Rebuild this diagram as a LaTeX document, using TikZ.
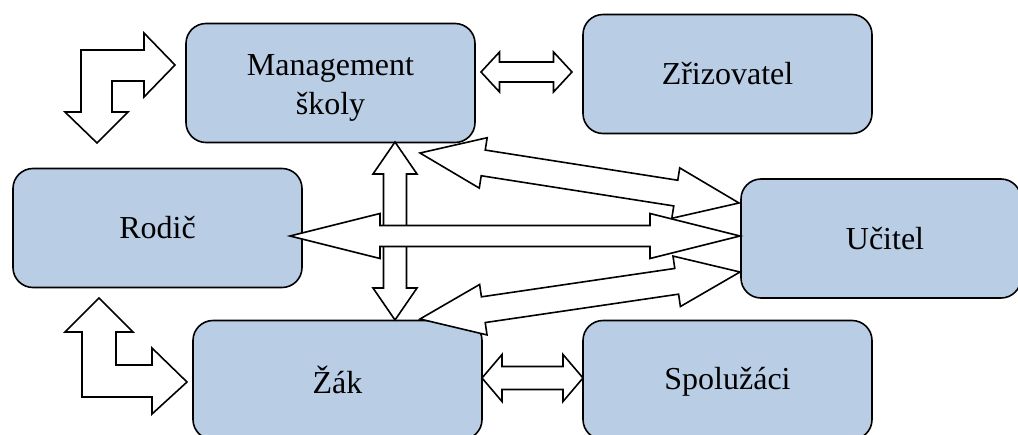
\documentclass[tikz,border=0pt]{standalone}
\usepackage{fontspec}
\setmainfont{Liberation Serif}
\usetikzlibrary{calc}
\definecolor{boxblue}{HTML}{B9CDE5}
\tikzset{
  box/.style={draw=black, line width=1.6pt, fill=boxblue, rounded corners=20pt,
    minimum width=289pt, minimum height=119pt, inner sep=0pt, align=center,
    font=\fontsize{32}{39}\selectfont},
  blockarrow/.style={draw=black, fill=white, line width=1.6pt, line join=miter},
}
% double block arrow: #1 name, #2 tip A, #3 tip B, #4 shaft half width,
% #5 head half width, #6 head length
\newcommand\dblarrow[6]{%
  \coordinate (#1a) at ($(#2)!#6pt!(#3)$);
  \coordinate (#1b) at ($(#3)!#6pt!(#2)$);
  \draw[blockarrow] (#2)
    -- ($(#1a)!#5pt!90:(#3)$) -- ($(#1a)!#4pt!90:(#3)$)
    -- ($(#1b)!#4pt!-90:(#2)$) -- ($(#1b)!#5pt!-90:(#2)$)
    -- (#3)
    -- ($(#1b)!#5pt!90:(#2)$) -- ($(#1b)!#4pt!90:(#2)$)
    -- ($(#1a)!#4pt!-90:(#3)$) -- ($(#1a)!#5pt!-90:(#3)$)
    -- cycle;}
\begin{document}
\begin{tikzpicture}[x=1pt, y=-1pt]
\useasboundingbox (0,0) rectangle (1018,434);
\clip (0,0) rectangle (1018,434);

% boxes
\node[box] (mg) at (330.5,83)
  {\raisebox{-4pt}[\height][\depth]{\begin{tabular}{@{}c@{}}Management\\školy\end{tabular}}};
\node[box] (zr) at (727.5,74) {Zřizovatel};
\node[box] (ro) at (157.5,228) {Rodič};
\node[box, minimum width=280pt] (uc) at (881,238.5) {\hspace*{8pt}Učitel};
\node[box] (zk) at (337.5,380) {Žák};
\node[box] (sp) at (727.5,380) {\raisebox{-2pt}[\height][\depth]{Spolužáci}};

% arrow tips
\coordinate (mgE) at (481,72);
\coordinate (zrW) at (572,72);
\coordinate (zkE) at (482,378);
\coordinate (spW) at (583,378);
\coordinate (mgS) at (395,142);
\coordinate (zkN) at (395,320);
\coordinate (roE) at (290,236);
\coordinate (ucW) at (740,236);
\coordinate (mgSE) at (420,153);
\coordinate (ucNW) at (739,203);
\coordinate (zkNE) at (420,319);
\coordinate (ucSW) at (740,272);

% bent arrow between Management and Rodič
\draw[blockarrow] (81,50) -- (144,50) -- (144,33) -- (175,65) -- (144,97)
  -- (144,81) -- (112,81) -- (112,112) -- (128,112) -- (97,143) -- (65,112)
  -- (81,112) -- cycle;
% bent arrow between Rodič and Žák
\draw[blockarrow] (82,397) -- (82,332) -- (65,332) -- (99,298) -- (133,332)
  -- (116,332) -- (116,365) -- (152,365) -- (152,348) -- (187,382)
  -- (152,414) -- (152,397) -- cycle;

\dblarrow{a1}{mgE}{zrW}{10}{20}{18.5}
\dblarrow{a2}{zkE}{spW}{11.5}{23.5}{20}
\dblarrow{a3}{mgS}{zkN}{11.5}{22}{32}
\dblarrow{a4}{roE}{ucW}{10.5}{22.5}{90}
\dblarrow{a5}{mgSE}{ucNW}{13}{25.5}{64}
\dblarrow{a6}{zkNE}{ucSW}{13}{25.5}{64}
\end{tikzpicture}
\end{document}
